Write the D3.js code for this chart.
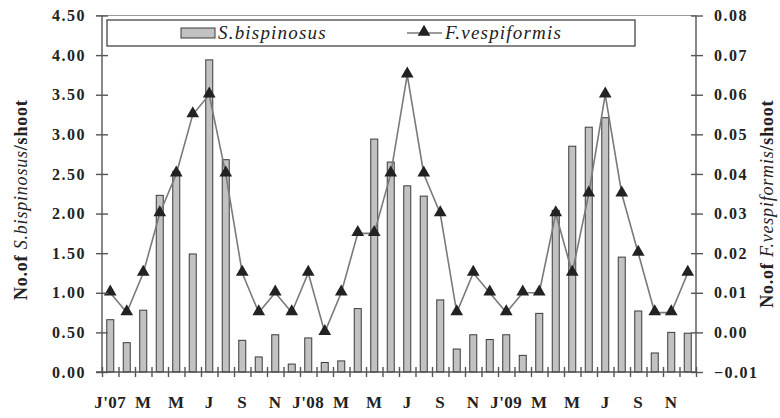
<!DOCTYPE html>
<html>
<head>
<meta charset="utf-8">
<script src="https://cdn.jsdelivr.net/npm/d3@7"></script>
<style>
  body { margin: 0; background: #fff; }
  svg text { font-family: "Liberation Serif", "DejaVu Serif", serif; }
  .tick text { font-weight: bold; font-size: 16px; letter-spacing: 1.5px; fill: #222; }
  .axis path, .axis line { stroke: #555; stroke-width: 1.4; }
</style>
</head>
<body>
<div id="chart"></div>
<script>
// months Jan 2007 - Dec 2009
var months = d3.range(36);
var monthLabels = ["J'07", "M", "M", "J", "S", "N", "J'08", "M", "M", "J", "S", "N", "J'09", "M", "M", "J", "S", "N"];

// S.bispinosus per shoot (left axis)
var bispinosus = [0.66, 0.37, 0.78, 2.23, 2.53, 1.49, 3.94, 2.68, 0.40, 0.19, 0.47, 0.10,
                  0.43, 0.12, 0.14, 0.80, 2.94, 2.65, 2.35, 2.22, 0.91, 0.29, 0.47, 0.41,
                  0.47, 0.21, 0.74, 2.04, 2.85, 3.09, 3.21, 1.45, 0.77, 0.24, 0.50, 0.49];

// F.vespiformis per shoot (right axis)
var vespiformis = [0.010, 0.005, 0.015, 0.030, 0.040, 0.055, 0.060, 0.040, 0.015, 0.005, 0.010, 0.005,
                   0.015, 0.000, 0.010, 0.025, 0.025, 0.040, 0.065, 0.040, 0.030, 0.005, 0.015, 0.010,
                   0.005, 0.010, 0.010, 0.030, 0.015, 0.035, 0.060, 0.035, 0.020, 0.005, 0.005, 0.015];

var leftTicks = [0, 0.5, 1, 1.5, 2, 2.5, 3, 3.5, 4, 4.5];
var rightTicks = [-0.01, 0, 0.01, 0.02, 0.03, 0.04, 0.05, 0.06, 0.07, 0.08];

var width = 780, height = 418;
var margin = { top: 15.5, right: 84, bottom: 46, left: 102 };
var w = width - margin.left - margin.right,
    h = height - margin.top - margin.bottom;

var svg = d3.select("#chart").append("svg")
    .attr("width", width)
    .attr("height", height);

var g = svg.append("g")
    .attr("transform", "translate(" + margin.left + "," + margin.top + ")");

var x = d3.scaleBand().domain(months).range([0, w]).padding(0);
var y = d3.scaleLinear().domain([0, 4.5]).range([h, 0]);
var y2 = d3.scaleLinear().domain([-0.01, 0.08]).range([h, 0]);

// top frame line
g.append("line")
    .attr("x1", -6).attr("x2", w)
    .attr("y1", 0).attr("y2", 0)
    .attr("stroke", "#999").attr("stroke-width", 1.2);

// bars
g.selectAll(".bar")
    .data(bispinosus)
  .enter().append("rect")
    .attr("class", "bar")
    .attr("x", function(d, i) { return x(i) + x.bandwidth() / 2 - 3.5; })
    .attr("width", 7)
    .attr("y", function(d) { return y(d); })
    .attr("height", function(d) { return h - y(d); })
    .attr("fill", "#c2c2c2")
    .attr("stroke", "#3a3a3a")
    .attr("stroke-width", 1);

// line
var line = d3.line()
    .x(function(d, i) { return x(i) + x.bandwidth() / 2; })
    .y(function(d) { return y2(d); });

g.append("path")
    .datum(vespiformis)
    .attr("fill", "none")
    .attr("stroke", "#7a7a7a")
    .attr("stroke-width", 1.6)
    .attr("d", line);

var tri = d3.symbol().type(d3.symbolTriangle).size(70);
g.selectAll(".tri")
    .data(vespiformis)
  .enter().append("path")
    .attr("class", "tri")
    .attr("d", tri)
    .attr("transform", function(d, i) {
      return "translate(" + (x(i) + x.bandwidth() / 2) + "," + (y2(d) - 1) + ")";
    })
    .attr("fill", "#222");

// x axis with ticks at month boundaries
var xb = d3.scaleLinear().domain([0, 36]).range([0, w]);
var xAxis = g.append("g")
    .attr("class", "axis")
    .attr("transform", "translate(0," + h + ")")
    .call(d3.axisBottom(xb).tickValues(d3.range(0, 37)).tickSize(5).tickFormat(""));
xAxis.select(".domain").attr("d", "M-6,0H" + w);
xAxis.selectAll(".tick line").attr("y1", -5);

g.selectAll(".xlab")
    .data(monthLabels)
  .enter().append("text")
    .attr("class", "xlab")
    .attr("x", function(d, i) { return x(i * 2) + x.bandwidth() / 2; })
    .attr("y", h + 36)
    .attr("text-anchor", "middle")
    .style("font-weight", "bold")
    .style("font-size", "17px")
    .style("letter-spacing", "0.5px")
    .attr("fill", "#222")
    .text(function(d) { return d; });

// left axis
var yAxis = g.append("g")
    .attr("class", "axis")
    .call(d3.axisLeft(y).tickValues(leftTicks).tickSize(6).tickFormat(d3.format(".2f")));
yAxis.selectAll(".tick line").attr("x2", -6).attr("x1", 6);
yAxis.selectAll(".tick text").attr("x", -16);
yAxis.select(".domain").attr("d", "M0," + h + "V0");

// right axis
var y2Axis = g.append("g")
    .attr("class", "axis")
    .attr("transform", "translate(" + w + ",0)")
    .call(d3.axisRight(y2).tickValues(rightTicks).tickSize(6).tickFormat(d3.format(".2f")));
y2Axis.selectAll(".tick line").attr("x1", -5).attr("x2", 7);
y2Axis.selectAll(".tick text").attr("x", 18);
y2Axis.select(".domain").attr("d", "M0," + h + "V0");

// axis titles
var lt = svg.append("text")
    .attr("transform", "translate(27," + (margin.top + h / 2 + 6) + ") rotate(-90)")
    .attr("text-anchor", "middle")
    .style("font-size", "18px")
    .style("letter-spacing", "0.8px")
    .attr("fill", "#222");
lt.append("tspan").style("font-weight", "bold").text("No.of ");
lt.append("tspan").style("font-style", "italic").text("S.bispinosus");
lt.append("tspan").style("font-weight", "bold").text("/shoot");

var rt = svg.append("text")
    .attr("transform", "translate(773," + (margin.top + h / 2 + 10) + ") rotate(-90)")
    .attr("text-anchor", "middle")
    .style("font-size", "18px")
    .style("letter-spacing", "0.8px")
    .attr("fill", "#222");
rt.append("tspan").style("font-weight", "bold").text("No.of ");
rt.append("tspan").style("font-style", "italic").text("F.vespiformis");
rt.append("tspan").style("font-weight", "bold").text("/shoot");

// legend
var legend = svg.append("g");
legend.append("rect")
    .attr("x", 107).attr("y", 20)
    .attr("width", 528).attr("height", 26)
    .attr("fill", "#fff")
    .attr("stroke", "#444")
    .attr("stroke-width", 1.3);
legend.append("rect")
    .attr("x", 181).attr("y", 28)
    .attr("width", 34).attr("height", 10)
    .attr("fill", "#c2c2c2")
    .attr("stroke", "#3a3a3a");
legend.append("text")
    .attr("x", 218).attr("y", 39)
    .style("font-style", "italic")
    .style("font-size", "19px")
    .style("letter-spacing", "1.2px")
    .attr("fill", "#222")
    .text("S.bispinosus");
legend.append("line")
    .attr("x1", 407).attr("x2", 442)
    .attr("y1", 33).attr("y2", 33)
    .attr("stroke", "#7a7a7a").attr("stroke-width", 1.6);
legend.append("path")
    .attr("d", tri)
    .attr("transform", "translate(424,32)")
    .attr("fill", "#222");
legend.append("text")
    .attr("x", 445).attr("y", 39)
    .style("font-style", "italic")
    .style("font-size", "19px")
    .style("letter-spacing", "1.2px")
    .attr("fill", "#222")
    .text("F.vespiformis");
</script>
</body>
</html>
